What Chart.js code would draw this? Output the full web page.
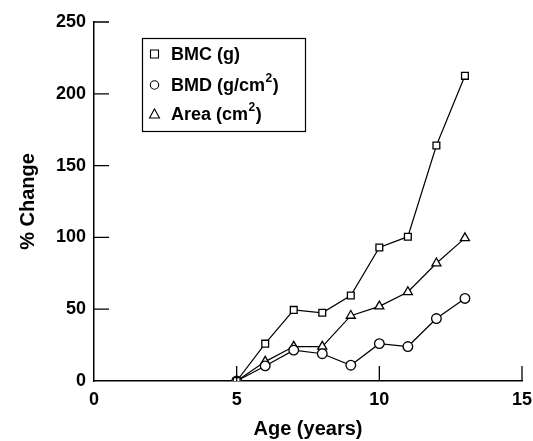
<!DOCTYPE html>
<html>
<head>
<meta charset="utf-8">
<script src="https://cdn.jsdelivr.net/npm/chart.js@4"></script>
<style>
  body { margin: 0; background: #fff; }
  #wrap { width: 533px; height: 441px; }
</style>
</head>
<body>
<div id="wrap"><canvas id="grafico"></canvas></div>
<script>
const ages = [5, 6, 7, 8, 9, 10, 11, 12, 13];
const bmc = [0, 26, 49.5, 47.5, 59.5, 93, 100.5, 164, 212.5];
const bmd = [0, 10.5, 21.5, 19, 11, 26, 24, 43.5, 57.5];
const area = [0, 13.5, 24, 24, 45.5, 52, 62, 82, 99.5];
const xTicks = [0, 5, 10, 15];
const yTicks = [0, 50, 100, 150, 200, 250];

const FONT = "'Liberation Sans', Arial, Helvetica, sans-serif";

function pts(ys) {
  return ages.map((a, i) => ({ x: a, y: ys[i] }));
}

function serie(label, ys, style) {
  return {
    label,
    data: pts(ys),
    borderColor: "#000",
    borderWidth: 1.2,
    backgroundColor: "#fff",
    pointBackgroundColor: "#fff",
    pointBorderColor: "#000",
    pointBorderWidth: 1.3,
    pointStyle: style,
    pointRadius: style === "triangle" ? 5.2 : 4.8,
    tension: 0
  };
}

// ticks pointing inward + legend box with superscripts
const extras = {
  id: "extras",
  afterDraw(chart) {
    const ctx = chart.ctx;
    const xs = chart.scales.x, ys = chart.scales.y;
    const area0 = chart.chartArea;
    ctx.save();
    ctx.strokeStyle = "#000";
    ctx.lineWidth = 1.3;
    ctx.beginPath();
    xTicks.slice(1).forEach(v => {
      const px = xs.getPixelForValue(v);
      ctx.moveTo(px, area0.bottom);
      ctx.lineTo(px, area0.bottom - 15);
    });
    yTicks.slice(1).forEach(v => {
      const py = ys.getPixelForValue(v);
      ctx.moveTo(area0.left, py);
      ctx.lineTo(area0.left + 15, py);
    });
    ctx.stroke();

    // legend
    const bx = 142, by = 38, bw = 163, bh = 93;
    ctx.lineWidth = 1.2;
    ctx.strokeRect(bx + 0.5, by + 0.5, bw, bh);
    const rows = [
      { y: 54, style: "rect", txt: "BMC (g)", sup: null, after: null },
      { y: 85, style: "circle", txt: "BMD (g/cm", sup: "2", after: ")" },
      { y: 114, style: "triangle", txt: "Area (cm", sup: "2", after: ")" }
    ];
    ctx.fillStyle = "#000";
    ctx.textBaseline = "middle";
    rows.forEach(r => {
      const mx = 154.5;
      ctx.lineWidth = 1.1;
      ctx.beginPath();
      if (r.style === "rect") ctx.rect(mx - 4, r.y - 4, 8, 8);
      if (r.style === "circle") ctx.arc(mx, r.y, 4.2, 0, Math.PI * 2);
      if (r.style === "triangle") {
        ctx.moveTo(mx, r.y - 5);
        ctx.lineTo(mx + 5, r.y + 4);
        ctx.lineTo(mx - 5, r.y + 4);
        ctx.closePath();
      }
      ctx.stroke();
      let tx = 171;
      ctx.font = "bold 18px " + FONT;
      ctx.fillText(r.txt, tx, r.y + 1);
      tx += ctx.measureText(r.txt).width;
      if (r.sup) {
        ctx.font = "bold 12px " + FONT;
        ctx.fillText(r.sup, tx + 0.5, r.y - 6);
        tx += ctx.measureText(r.sup).width + 1;
        ctx.font = "bold 18px " + FONT;
        ctx.fillText(r.after, tx, r.y + 1);
      }
    });
    ctx.restore();
  }
};

new Chart(document.getElementById("grafico"), {
  type: "line",
  data: {
    datasets: [
      serie("BMC (g)", bmc, "rect"),
      serie("BMD (g/cm²)", bmd, "circle"),
      serie("Area (cm²)", area, "triangle")
    ]
  },
  options: {
    responsive: true,
    maintainAspectRatio: false,
    animation: false,
    layout: { padding: { top: 22, right: 11, left: 0, bottom: 0 } },
    plugins: { legend: { display: false }, tooltip: { enabled: false } },
    scales: {
      x: {
        type: "linear",
        min: 0, max: 15,
        afterBuildTicks(s) { s.ticks = xTicks.map(v => ({ value: v })); },
        afterFit(s) { s.height = 60; s.paddingRight = 0; s.paddingLeft = 0; },
        grid: { display: false, drawTicks: false },
        border: { display: true, color: "#000", width: 1.5 },
        ticks: { color: "#000", padding: 8, font: { family: FONT, size: 18, weight: "bold" } },
        title: {
          display: true, text: "Age (years)", color: "#000",
          padding: { top: 8, bottom: 0 },
          font: { family: FONT, size: 20, weight: "bold" }
        }
      },
      y: {
        min: 0, max: 250,
        afterBuildTicks(s) { s.ticks = yTicks.map(v => ({ value: v })); },
        afterFit(s) { s.width = 94; s.paddingTop = 0; s.paddingBottom = 0; },
        grid: { display: false, drawTicks: false },
        border: { display: true, color: "#000", width: 1.5 },
        ticks: { color: "#000", padding: 8, font: { family: FONT, size: 18, weight: "bold" } },
        title: {
          display: true, text: "% Change", color: "#000",
          padding: { top: 16, bottom: 0 },
          font: { family: FONT, size: 20, weight: "bold" }
        }
      }
    }
  },
  plugins: [extras]
});
</script>
</body>
</html>
